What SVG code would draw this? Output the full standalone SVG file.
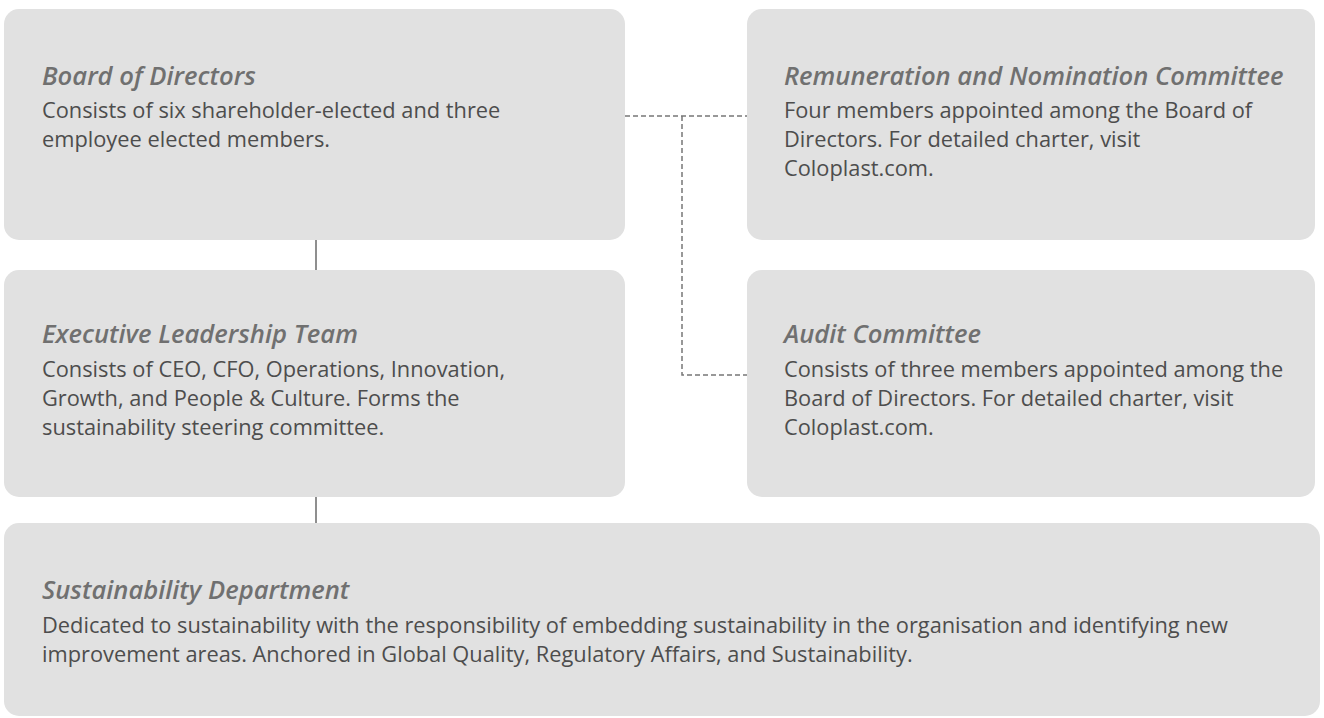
<svg xmlns="http://www.w3.org/2000/svg" width="1324" height="718" viewBox="0 0 1324 718">
  <style>
    .box { fill: #e1e1e1; }
    .title { font-family: "Open Sans", "Liberation Sans", sans-serif; font-size: 25.6px; font-weight: 600; font-style: italic; fill: #707070; }
    .body { font-family: "Open Sans", "Liberation Sans", sans-serif; font-size: 21.8px; fill: #4d4d4d; }
    .solid { stroke: #6a6a6a; stroke-width: 1.5; fill: none; }
    .dash { stroke: #777777; stroke-width: 1.5; fill: none; stroke-dasharray: 5 3; }
  </style>
  <rect width="1324" height="718" fill="#ffffff"/>
  <g id="connectors">
    <line class="solid" x1="316" y1="240" x2="316" y2="270"/>
    <line class="solid" x1="316" y1="497" x2="316" y2="523"/>
    <path class="dash" d="M625,116 H747"/>
    <path class="dash" d="M682,116 V375 H747"/>
  </g>
  <g id="board">
    <rect class="box" x="4" y="9" width="621" height="231" rx="15"/>
    <text class="title" x="42" y="85">Board of Directors</text>
    <text class="body" x="42" y="118">Consists of six shareholder-elected and three</text>
    <text class="body" x="42" y="147">employee elected members.</text>
  </g>
  <g id="elt">
    <rect class="box" x="4" y="270" width="621" height="227" rx="15"/>
    <text class="title" x="42" y="343">Executive Leadership Team</text>
    <text class="body" x="42" y="377">Consists of CEO, CFO, Operations, Innovation,</text>
    <text class="body" x="42" y="406">Growth, and People &amp; Culture. Forms the</text>
    <text class="body" x="42" y="435">sustainability steering committee.</text>
  </g>
  <g id="remuneration">
    <rect class="box" x="747" y="9" width="568" height="231" rx="15"/>
    <text class="title" x="784" y="85">Remuneration and Nomination Committee</text>
    <text class="body" x="784" y="118">Four members appointed among the Board of</text>
    <text class="body" x="784" y="147">Directors. For detailed charter, visit</text>
    <text class="body" x="784" y="176">Coloplast.com.</text>
  </g>
  <g id="audit">
    <rect class="box" x="747" y="270" width="568" height="227" rx="15"/>
    <text class="title" x="784" y="343">Audit Committee</text>
    <text class="body" x="784" y="377">Consists of three members appointed among the</text>
    <text class="body" x="784" y="406">Board of Directors. For detailed charter, visit</text>
    <text class="body" x="784" y="435">Coloplast.com.</text>
  </g>
  <g id="sustainability">
    <rect class="box" x="4" y="523" width="1316" height="193" rx="15"/>
    <text class="title" x="42" y="599">Sustainability Department</text>
    <text class="body" x="42" y="633">Dedicated to sustainability with the responsibility of embedding sustainability in the organisation and identifying new</text>
    <text class="body" x="42" y="662">improvement areas. Anchored in Global Quality, Regulatory Affairs, and Sustainability.</text>
  </g>
</svg>
